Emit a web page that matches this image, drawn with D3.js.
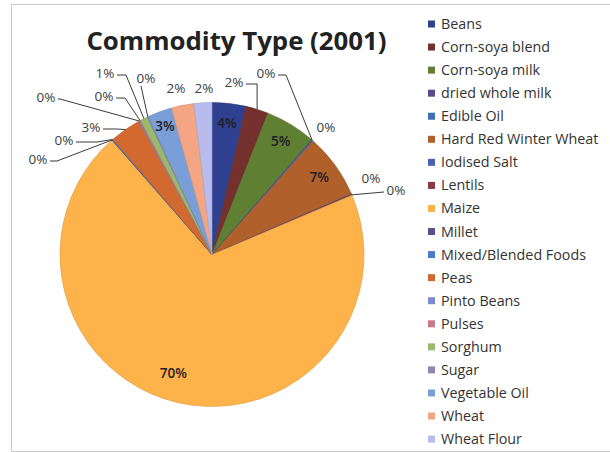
<!DOCTYPE html>
<html>
<head>
<meta charset="utf-8">
<script src="https://cdn.jsdelivr.net/npm/d3@7"></script>
<style>
  html, body { margin: 0; padding: 0; background: #fff; }
  svg { display: block; font-family: "Open Sans", "Noto Sans", sans-serif; }
</style>
</head>
<body>
<svg id="chart" width="610" height="452"></svg>
<script>
// Commodity shares, in the order Excel lays the slices out (clockwise from 12 o'clock)
const categories = [
  "Beans", "Corn-soya blend", "Corn-soya milk", "dried whole milk", "Edible Oil",
  "Hard Red Winter Wheat", "Iodised Salt", "Lentils", "Maize", "Millet",
  "Mixed/Blended Foods", "Peas", "Pinto Beans", "Pulses", "Sorghum", "Sugar",
  "Vegetable Oil", "Wheat", "Wheat Flour"
];
const shares = [
  3.6, 2.4, 5.4, 0.1, 0.1,
  6.9, 0.05, 0.1, 70.0, 0.05,
  0.1, 3.3, 0.1, 0.1, 0.8, 0.1,
  2.6, 2.4, 1.9
];
const sliceColors = [
  "#2f4090", "#74302c", "#5f7f33", "#5a4a8a", "#3f6fb5",
  "#b0602a", "#4a5fb5", "#8b3a45", "#fdb24a", "#5e4f8a",
  "#4a7bc8", "#d2692f", "#7f8bd0", "#c87a8a", "#9cb86a", "#8f87b0",
  "#7a9fd8", "#f4a584", "#b8bcec"
];
const title = "Commodity Type (2001)";

// Label placement: inside slices (radius factor) or outside with an optional leader line
const labelLayout = {
  "Beans": { inside: 0.87 },
  "Corn-soya blend": { at: [234, 82], from: "right", knee: "anchor" },
  "Corn-soya milk": { inside: 0.87 },
  "dried whole milk": { at: [266, 73], from: "right", knee: 8 },
  "Edible Oil": { at: [326, 127] },
  "Hard Red Winter Wheat": { inside: 0.87 },
  "Iodised Salt": { at: [371, 178] },
  "Lentils": { at: [396, 190], from: "left", knee: 0 },
  "Maize": { inside: 0.82, angleShift: 0.09 },
  "Millet": { at: [38, 159], from: "right", knee: 7 },
  "Mixed/Blended Foods": { at: [64, 140], from: "right", knee: 21 },
  "Peas": { at: [91, 127], from: "right", knee: 13 },
  "Pinto Beans": { at: [46, 97], from: "right", knee: 2 },
  "Pulses": { at: [104, 96], from: "right", knee: 9 },
  "Sorghum": { at: [105, 73], from: "right", knee: 9 },
  "Sugar": { at: [146, 78], from: "below" },
  "Vegetable Oil": { inside: 0.9 },
  "Wheat": { at: [176, 88] },
  "Wheat Flour": { at: [204, 88] }
};

const svg = d3.select("#chart");

// outer frame of the chart area
svg.append("path")
  .attr("d", "M610,4.5H11.5V451.5H610")
  .attr("fill", "none")
  .attr("stroke", "#c9c9c9")
  .attr("stroke-width", 1);

svg.append("text")
  .attr("x", 236.5).attr("y", 50)
  .attr("text-anchor", "middle")
  .attr("font-size", 25.8).attr("font-weight", 700)
  .attr("fill", "#222")
  .text(title);

const cx = 212, cy = 254.5, radius = 152;
const data = categories.map((c, i) => ({ name: c, value: shares[i], color: sliceColors[i] }));
const total = d3.sum(shares);

const pie = d3.pie().sort(null).value(d => d.value).startAngle(0).endAngle(2 * Math.PI);
const arcs = pie(data);
const arc = d3.arc().innerRadius(0).outerRadius(radius);

const g = svg.append("g").attr("transform", `translate(${cx},${cy})`);
g.selectAll("path.slice")
  .data(arcs)
  .join("path")
  .attr("class", "slice")
  .attr("d", arc)
  .attr("fill", d => d.data.color)
  .attr("stroke", d => d3.color(d.data.color).darker(0.4))
  .attr("stroke-width", 0.6);

const pct = v => Math.round(v / total * 100) + "%";
const polar = (a, r) => [Math.sin(a) * r, -Math.cos(a) * r];

const labelG = svg.append("g");
arcs.forEach(d => {
  const lay = labelLayout[d.data.name];
  const mid = (d.startAngle + d.endAngle) / 2;
  if (lay.inside) {
    const p = polar(mid + (lay.angleShift || 0), radius * lay.inside);
    labelG.append("text")
      .attr("x", cx + p[0]).attr("y", cy + p[1])
      .attr("dy", "0.35em")
      .attr("text-anchor", "middle")
      .attr("font-size", 13.5).attr("font-weight", 600)
      .attr("fill", "#1e1e28")
      .text(pct(d.data.value));
    return;
  }
  const [lx, ly] = lay.at;
  labelG.append("text")
    .attr("x", lx).attr("y", ly)
    .attr("dy", "0.35em")
    .attr("text-anchor", "middle")
    .attr("font-size", 13.5)
    .attr("fill", "#404040")
    .text(pct(d.data.value));
  if (!lay.from) return;
  const a = polar(mid, radius);
  const anchor = [cx + a[0], cy + a[1]];
  let pts;
  if (lay.from === "below") {
    pts = [[lx - 5, ly + 8], anchor];
  } else {
    const dir = lay.from === "right" ? 1 : -1;
    const start = [lx + dir * 12, ly + 2];
    const knee = lay.knee === "anchor" ? [anchor[0], start[1]] : [start[0] + dir * lay.knee, start[1]];
    pts = [start, knee, anchor];
  }
  labelG.append("path")
    .attr("d", d3.line()(pts))
    .attr("fill", "none")
    .attr("stroke", "#3a3a3a")
    .attr("stroke-width", 1);
});

// legend
const legend = svg.append("g").attr("transform", "translate(428,24)");
const rowStep = 23.06;
const rows = legend.selectAll("g")
  .data(data)
  .join("g")
  .attr("transform", (d, i) => `translate(0,${i * rowStep})`);
rows.append("rect")
  .attr("x", 0).attr("y", -3.5)
  .attr("width", 7).attr("height", 7)
  .attr("fill", d => d.color);
rows.append("text")
  .attr("x", 13).attr("y", 0)
  .attr("dy", "0.35em")
  .attr("font-size", 14.3)
  .attr("fill", "#333")
  .text(d => d.name);
</script>
</body>
</html>
